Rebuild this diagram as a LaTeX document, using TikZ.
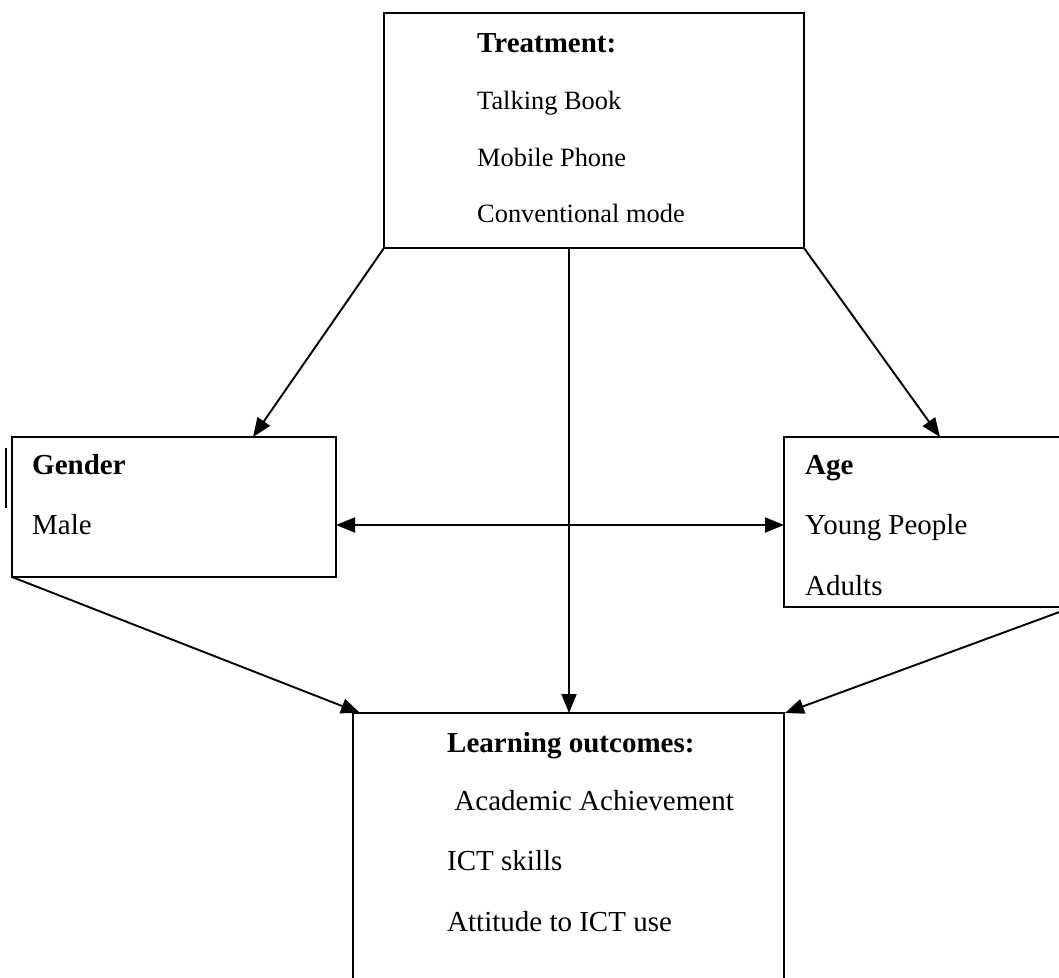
\documentclass[tikz,border=0pt]{standalone}
\usepackage{fontspec}
\setmainfont{Liberation Serif}
\usetikzlibrary{arrows.meta}
\tikzset{
  box/.style={draw, line width=1.9pt, rectangle, inner sep=0pt, outer sep=0pt, anchor=north west},
  item/.style={anchor=base west, inner sep=0pt, font=\fontsize{29}{34}\selectfont},
  subitem/.style={anchor=base west, inner sep=0pt, font=\fontsize{26.4}{32}\selectfont},
  head/.style={anchor=base west, inner sep=0pt, font=\fontsize{29}{34}\selectfont\bfseries},
  tip/.style={Triangle[length=19pt,width=15pt]},
  link/.style={line width=1.9pt, -{Triangle[length=19pt,width=15pt]}},
  biglink/.style={line width=1.9pt, {Triangle[length=19pt,width=15pt]}-{Triangle[length=19pt,width=15pt]}},
}
\begin{document}
\begin{tikzpicture}[x=1pt,y=-1pt]
\useasboundingbox (0,0) rectangle (1059,977);
\clip (0,0) rectangle (1059,977);

% boxes
\node[box, minimum width=420pt, minimum height=235pt] (treat) at (384,13) {};
\node[box, minimum width=324pt, minimum height=140pt] (gender) at (12,437) {};
\node[box, minimum width=289pt, minimum height=170pt] (age) at (784,437) {};
\node[box, minimum width=431pt, minimum height=300pt] (learn) at (353,713) {};

% texts
\node[head] (tH) at (477,52) {Treatment:};
\node[subitem] (t1) at (477,109) {Talking Book};
\node[subitem] (t2) at (477,166) {Mobile Phone};
\node[subitem] (t3) at (477,222) {Conventional mode};

\node[head] (gH) at (32,474) {Gender};
\node[item] (g1) at (32,534) {Male};

\node[head] (aH) at (805,474) {Age};
\node[item] (a1) at (805,534) {Young People};
\node[item] (a2) at (805,595) {Adults};

\node[head] (lH) at (447,752) {Learning outcomes:};
\node[item] (l1) at (447,810) {\ Academic Achievement};
\node[item] (l2) at (447,870) {ICT skills};
\node[item] (l3) at (447,931) {Attitude to ICT use};

% attachment points on box edges
\coordinate (tMid) at ([xshift=185pt]treat.south west);
\coordinate (gTop) at ([xshift=241pt]gender.north west);
\coordinate (aTop) at ([xshift=156pt]age.north west);
\coordinate (gSide) at ([yshift=52pt]gender.south east);
\coordinate (aSide) at ([yshift=-88pt]age.north west);
\coordinate (lLeft) at ([xshift=7pt]learn.north west);
\coordinate (lMid) at ([xshift=216pt]learn.north west);
\coordinate (lRight) at ([xshift=1pt]learn.north east);

% connectors
\draw[link] (treat.south west) -- (gTop);
\draw[link] (treat.south east) -- (aTop);
\draw[link] (tMid) -- (lMid);
\draw[biglink] (gSide) -- (aSide);
\draw[link] (gender.south west) -- (lLeft);
\draw[link] (age.south east) -- (lRight);

% margin bar beside the gender box
\coordinate (barTop) at (6,448);
\coordinate (barBot) at (6,508);
\draw[line width=1.9pt] (barTop) -- (barBot);
\end{tikzpicture}
\end{document}
